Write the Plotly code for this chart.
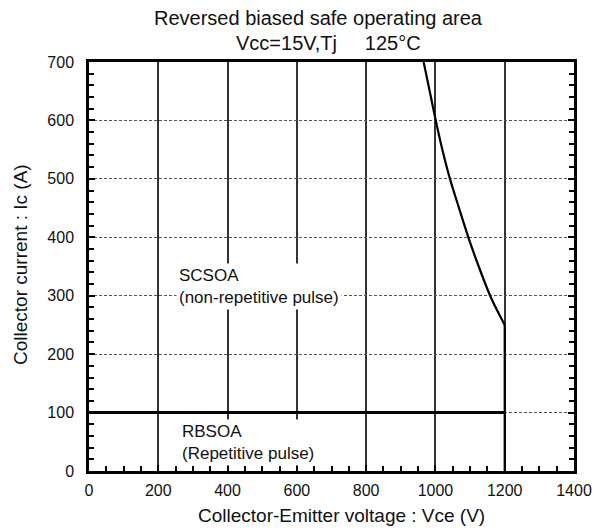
import plotly.graph_objects as go

# SCSOA boundary curve
scsoa_v = [966, 989, 1001, 1020, 1042, 1067, 1095, 1125, 1158, 1178, 1200]
scsoa_i = [700, 634, 600, 550, 500, 452, 400, 350, 300, 275, 250]
# vertical drop at 1200 V
drop_v = [1200, 1200]
drop_i = [250, 0]
# RBSOA limit
rbsoa_v = [0, 1200]
rbsoa_i = [100, 100]

x_ticks = [0, 200, 400, 600, 800, 1000, 1200, 1400]
y_ticks = [0, 100, 200, 300, 400, 500, 600, 700]

FONT = "Liberation Sans, Arial, sans-serif"
TXT = "#111"

fig = go.Figure()
fig.add_trace(go.Scatter(x=rbsoa_v, y=rbsoa_i, mode="lines",
                         line=dict(color="black", width=3), showlegend=False))
fig.add_trace(go.Scatter(x=scsoa_v, y=scsoa_i, mode="lines", line_shape="spline",
                         line=dict(color="black", width=2.2, smoothing=0.8), showlegend=False))
fig.add_trace(go.Scatter(x=drop_v, y=drop_i, mode="lines",
                         line=dict(color="black", width=2.2), showlegend=False))

fig.add_annotation(x=250, y=315, xref="x", yref="y", xanchor="left", yanchor="middle",
                   text="SCSOA<br>(non-repetitive pulse)", align="left", showarrow=False,
                   bgcolor="white", borderpad=2, font=dict(size=17, color=TXT, family=FONT))
fig.add_annotation(x=260, y=48, xref="x", yref="y", xanchor="left", yanchor="middle",
                   text="RBSOA<br>(Repetitive pulse)", align="left", showarrow=False,
                   bgcolor="white", borderpad=2, font=dict(size=17, color=TXT, family=FONT))

# title lines
fig.add_annotation(x=0.474, y=1.108, xref="paper", yref="paper", xanchor="center",
                   yanchor="middle", showarrow=False,
                   text="Reversed biased safe operating area",
                   font=dict(size=20, color=TXT, family=FONT))
fig.add_annotation(x=0.493, y=1.046, xref="paper", yref="paper", xanchor="center",
                   yanchor="middle", showarrow=False,
                   text="Vcc=15V,Tj\u00a0\u00a0\u00a0\u00a0\u00a0125°C",
                   font=dict(size=20, color=TXT, family=FONT))
# axis titles
fig.add_annotation(x=0.52, y=-0.108, xref="paper", yref="paper", xanchor="center",
                   yanchor="middle", showarrow=False,
                   text="Collector-Emitter voltage : Vce (V)",
                   font=dict(size=19, color=TXT, family=FONT))
fig.add_annotation(x=-0.140, y=0.504, xref="paper", yref="paper", xanchor="center",
                   yanchor="middle", showarrow=False, textangle=-90,
                   text="Collector current : Ic (A)",
                   font=dict(size=19, color=TXT, family=FONT))

fig.update_layout(
    width=602, height=524,
    margin=dict(l=81, r=36, t=54, b=61),
    paper_bgcolor="white", plot_bgcolor="white",
    font=dict(family=FONT, size=16, color=TXT),
    xaxis=dict(range=[0, 1400], tickvals=x_ticks, ticks="inside", ticklen=6,
               tickwidth=2, tickcolor="black",
               minor=dict(dtick=50, ticks="inside", ticklen=5, tickwidth=2, tickcolor="black",
                          showgrid=False),
               showline=True, linecolor="black", linewidth=2.5, mirror=True,
               showgrid=True, gridcolor="#333", gridwidth=1.6, zeroline=False,
               ticklabelstandoff=3),
    yaxis=dict(range=[0, 700], tickvals=y_ticks, ticks="inside", ticklen=6,
               tickwidth=2, tickcolor="black",
               minor=dict(dtick=20, ticks="inside", ticklen=5, tickwidth=2, tickcolor="black",
                          showgrid=False),
               showline=True, linecolor="black", linewidth=2.5, mirror="allticks",
               showgrid=True, gridcolor="#555", gridwidth=1.2, griddash="3px,2px",
               zeroline=False, ticklabelstandoff=9),
)

fig.write_html("out.html")
